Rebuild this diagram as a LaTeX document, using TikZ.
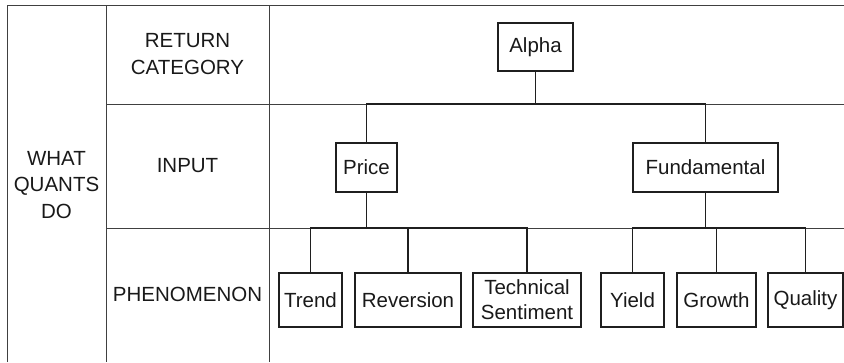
\documentclass[tikz,border=0pt]{standalone}
\usepackage{fontspec}
\setmainfont{Liberation Sans}
\begin{document}
\begin{tikzpicture}[x=1pt,y=-1pt,
  frame/.style={draw=black!75,line width=1pt},
  conn/.style={draw=black!88,line width=1.9pt},
  leaf/.style={draw=black!88,line width=1.9pt,inner sep=0pt,align=center,
    text=black!90,font=\fontsize{20.5}{25}\selectfont},
  lbl/.style={inner sep=0pt,align=center,text=black!90,font=\fontsize{20.5}{26.5}\selectfont}]
\useasboundingbox (0,0) rectangle (844,362);
% frame
\draw[frame] (7,362) -- (7,5) -- (844,5);
\draw[frame] (106,5) -- (106,362);
\draw[frame] (269,5) -- (269,362);
\draw[frame] (106,104) -- (844,104);
\draw[frame] (106,228) -- (844,228);
% row labels
\node[lbl] (what) at (56.5,185) {WHAT\\QUANTS\\DO};
\node[lbl] (ret) at (187.5,54) {RETURN\\CATEGORY};
\node[lbl] (inp) at (187.5,165.5) {INPUT};
\node[lbl] (phen) at (187.5,294) {PHENOMENON};
% bar levels
\coordinate (r1) at (0,104);
\coordinate (r2) at (0,228);
% tree nodes
\node[leaf,minimum width=75pt,minimum height=48pt] (alpha) at (535.5,47) {Alpha};
\node[leaf,minimum width=61pt,minimum height=49pt] (price) at (366.5,167.5) {Price};
\node[leaf,minimum width=145pt,minimum height=49pt] (fund) at (705.5,167.5) {Fundamental};
\node[leaf,minimum width=63pt,minimum height=54pt] (trend) at (310.5,300) {Trend};
\node[leaf,minimum width=106pt,minimum height=54pt] (rev) at (408,300) {Reversion};
\node[leaf,minimum width=108pt,minimum height=54pt] (tech) at (527,300) {Technical\\Sentiment};
\node[leaf,minimum width=63pt,minimum height=54pt] (yield) at (632.5,300) {Yield};
\node[leaf,minimum width=79pt,minimum height=54pt] (growth) at (716.5,300) {Growth};
\node[leaf,minimum width=75pt,minimum height=54pt] (quality) at (805.5,300) {Quality};
% connectors
\draw[conn] (alpha.south) -- (alpha.south |- r1);
\draw[conn] (price.north) |- (alpha.south |- r1) -| (fund.north);
\draw[conn] (price.south) -- (price.south |- r2);
\draw[conn] (trend.north) |- (price.south |- r2) -| (tech.north);
\draw[conn] (rev.north) -- (rev.north |- r2);
\draw[conn] (fund.south) -- (fund.south |- r2);
\draw[conn] (yield.north) |- (fund.south |- r2) -| (quality.north);
\draw[conn] (growth.north) -- (growth.north |- r2);
\end{tikzpicture}
\end{document}
